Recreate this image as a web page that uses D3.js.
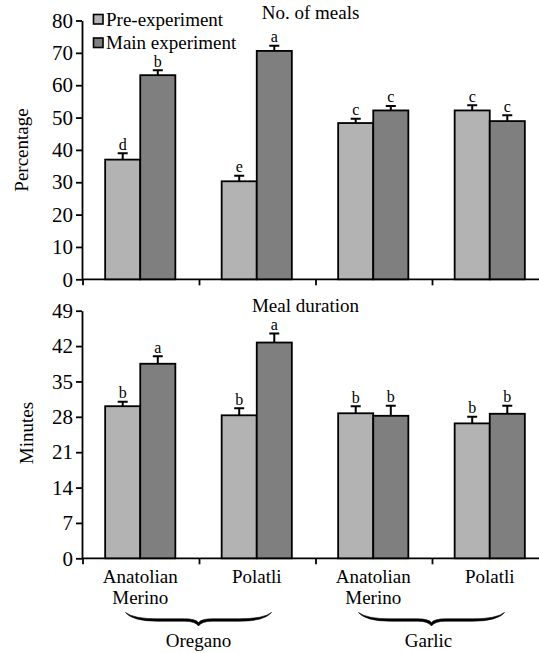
<!DOCTYPE html>
<html>
<head>
<meta charset="utf-8">
<script src="https://cdn.jsdelivr.net/npm/d3@7"></script>
<style>
  body { margin: 0; background: #fff; }
  svg text { font-family: "Liberation Serif", "Times New Roman", serif; fill: #000; }
</style>
</head>
<body>
<div id="canvas"></div>
<script>
// categories
const breeds = ["Anatolian Merino", "Polatli", "Anatolian Merino", "Polatli"];
const herbs = ["Oregano", "Garlic"];
const series = ["Pre-experiment", "Main experiment"];

// No. of meals (percentage)
const mealsPre = [37.0, 30.3, 48.3, 52.2];
const mealsPreErr = [2.0, 1.7, 1.3, 1.6];
const mealsMain = [63.1, 70.6, 52.2, 48.9];
const mealsMainErr = [1.5, 1.6, 1.4, 1.8];
const mealsPreLetters = ["d", "e", "c", "c"];
const mealsMainLetters = ["b", "a", "c", "c"];

// Meal duration (minutes)
const durPre = [30.1, 28.3, 28.7, 26.7];
const durPreErr = [0.9, 1.4, 1.4, 1.3];
const durMain = [38.5, 42.7, 28.2, 28.6];
const durMainErr = [1.5, 1.8, 2.0, 1.6];
const durPreLetters = ["b", "b", "b", "b"];
const durMainLetters = ["a", "a", "b", "b"];

// tick labels
const mealsTicks = [0, 10, 20, 30, 40, 50, 60, 70, 80];
const durTicks = [0, 7, 14, 21, 28, 35, 42, 49];

const W = 539, H = 653;
const colors = ["#b3b3b3", "#7f7f7f"];
const serif = "'Liberation Serif', 'Times New Roman', serif";

const svg = d3.select("#canvas")
  .append("svg")
    .attr("width", W)
    .attr("height", H);

const idx = d3.range(breeds.length);

const x0 = d3.scaleBand()
    .domain(idx)
    .range([82, 548])
    .padding(0);

const x1 = d3.scaleBand()
    .domain(series)
    .range([0, x0.bandwidth()])
    .paddingInner(0)
    .paddingOuter(0.66);

function panel(cfg) {
  const y = d3.scaleLinear()
      .domain([0, d3.max(cfg.ticks)])
      .range([cfg.bottom, cfg.top]);

  const g = svg.append("g");

  // y axis
  const ax = g.append("g")
      .attr("transform", "translate(82,0)")
      .attr("font-family", serif)
      .call(d3.axisLeft(y).tickValues(cfg.ticks).tickSize(6).tickPadding(3).tickSizeOuter(0));
  ax.select(".domain").attr("stroke-width", 1.8);
  ax.selectAll(".tick line").attr("stroke-width", 1.8);
  ax.selectAll(".tick text")
      .style("font-size", "21px")
      .style("font-family", serif);

  // x axis line with ticks at group boundaries
  g.append("line")
      .attr("x1", 82).attr("x2", 548)
      .attr("y1", y(0)).attr("y2", y(0))
      .attr("stroke", "#000").attr("stroke-width", 1.8);
  g.selectAll(".xtick")
    .data(idx)
    .enter()
    .append("line")
      .attr("x1", d => x0(d) + 1).attr("x2", d => x0(d) + 1)
      .attr("y1", y(0)).attr("y2", y(0) + 6)
      .attr("stroke", "#000").attr("stroke-width", 1.8);

  // y title
  g.append("text")
      .attr("transform", "translate(" + cfg.ylabX + "," + cfg.ylabY + ") rotate(-90)")
      .attr("text-anchor", "middle")
      .style("font-size", "19px")
      .text(cfg.ylabel);

  // panel title
  g.append("text")
      .attr("x", cfg.titleX).attr("y", cfg.titleY)
      .attr("text-anchor", "middle")
      .style("font-size", "19px")
      .text(cfg.title);

  const rows = [];
  idx.forEach(i => {
    rows.push({i: i, s: series[0], v: cfg.pre[i], e: cfg.preErr[i], l: cfg.preL[i], c: colors[0]});
    rows.push({i: i, s: series[1], v: cfg.main[i], e: cfg.mainErr[i], l: cfg.mainL[i], c: colors[1]});
  });

  const cx = d => x0(d.i) + x1(d.s) + x1.bandwidth() / 2;

  // bars
  g.selectAll(".bar")
    .data(rows)
    .enter()
    .append("rect")
      .attr("x", d => x0(d.i) + x1(d.s))
      .attr("y", d => y(d.v))
      .attr("width", x1.bandwidth())
      .attr("height", d => y(0) - y(d.v))
      .attr("fill", d => d.c)
      .attr("stroke", "#000")
      .attr("stroke-width", 1.8);

  // error bars (upper only)
  g.selectAll(".err")
    .data(rows)
    .enter()
    .append("path")
      .attr("d", d => "M" + cx(d) + "," + y(d.v) + "V" + y(d.v + d.e) +
                      "M" + (cx(d) - 5) + "," + y(d.v + d.e) + "H" + (cx(d) + 5))
      .attr("fill", "none")
      .attr("stroke", "#000")
      .attr("stroke-width", 2);

  // letters
  g.selectAll(".lab")
    .data(rows)
    .enter()
    .append("text")
      .attr("x", d => cx(d))
      .attr("y", d => y(d.v + d.e) - 3.5)
      .attr("text-anchor", "middle")
      .style("font-size", "16px")
      .text(d => d.l);

  return g;
}

panel({
  top: 20.5, bottom: 279.3, ticks: mealsTicks,
  pre: mealsPre, preErr: mealsPreErr, main: mealsMain, mainErr: mealsMainErr,
  preL: mealsPreLetters, mainL: mealsMainLetters,
  ylabel: "Percentage", ylabX: 28, ylabY: 150,
  title: "No. of meals", titleX: 310.5, titleY: 18.5
});

panel({
  top: 310.7, bottom: 558.3, ticks: durTicks,
  pre: durPre, preErr: durPreErr, main: durMain, mainErr: durMainErr,
  preL: durPreLetters, mainL: durMainLetters,
  ylabel: "Minutes", ylabX: 33, ylabY: 433,
  title: "Meal duration", titleX: 305.5, titleY: 311.5
});

// legend
const leg = svg.append("g");
series.forEach((s, k) => {
  leg.append("rect")
      .attr("x", 93.5).attr("y", 14.5 + k * 23.5)
      .attr("width", 9.5).attr("height", 9.5)
      .attr("fill", colors[k])
      .attr("stroke", "#000").attr("stroke-width", 1.6);
  leg.append("text")
      .attr("x", 106).attr("y", 26 + k * 23)
      .style("font-size", "19px")
      .text(s);
});

// category labels
const cat = svg.append("g");
idx.forEach(i => {
  const words = breeds[i].split(" ");
  const t = cat.append("text")
      .attr("text-anchor", "middle")
      .style("font-size", "19px");
  words.forEach((w, j) => {
    t.append("tspan")
        .attr("x", x0(i) + x0.bandwidth() / 2)
        .attr("y", 583 + j * 21)
        .text(w);
  });
});

// herb braces (filled, thicker in the middle) and labels
herbs.forEach((h, k) => {
  const mid = (x0(k * 2) + x0(k * 2 + 1) + x0.bandwidth()) / 2;
  const L = mid - 73, R = mid + 73;
  const p = d3.path();
  // lower edge
  p.moveTo(L, 612.5);
  p.quadraticCurveTo(L + 7, 621.2, L + 32, 621.2);
  p.lineTo(mid - 14, 621.2);
  p.quadraticCurveTo(mid - 3, 621.2, mid, 626);
  p.quadraticCurveTo(mid + 3, 621.2, mid + 14, 621.2);
  p.lineTo(R - 32, 621.2);
  p.quadraticCurveTo(R - 7, 621.2, R, 612.5);
  // upper edge back
  p.quadraticCurveTo(R - 8, 618.8, R - 32, 618.8);
  p.lineTo(mid + 14, 618.8);
  p.quadraticCurveTo(mid + 3, 618.8, mid, 622.5);
  p.quadraticCurveTo(mid - 3, 618.8, mid - 14, 618.8);
  p.lineTo(L + 32, 618.8);
  p.quadraticCurveTo(L + 8, 618.8, L, 612.5);
  p.closePath();
  svg.append("path")
      .attr("d", p.toString())
      .attr("fill", "#000")
      .attr("stroke", "#000")
      .attr("stroke-width", 0.6);
  svg.append("text")
      .attr("x", mid - (k === 1 ? 3 : 0)).attr("y", 647)
      .attr("text-anchor", "middle")
      .style("font-size", "19px")
      .text(h);
});
</script>
</body>
</html>
